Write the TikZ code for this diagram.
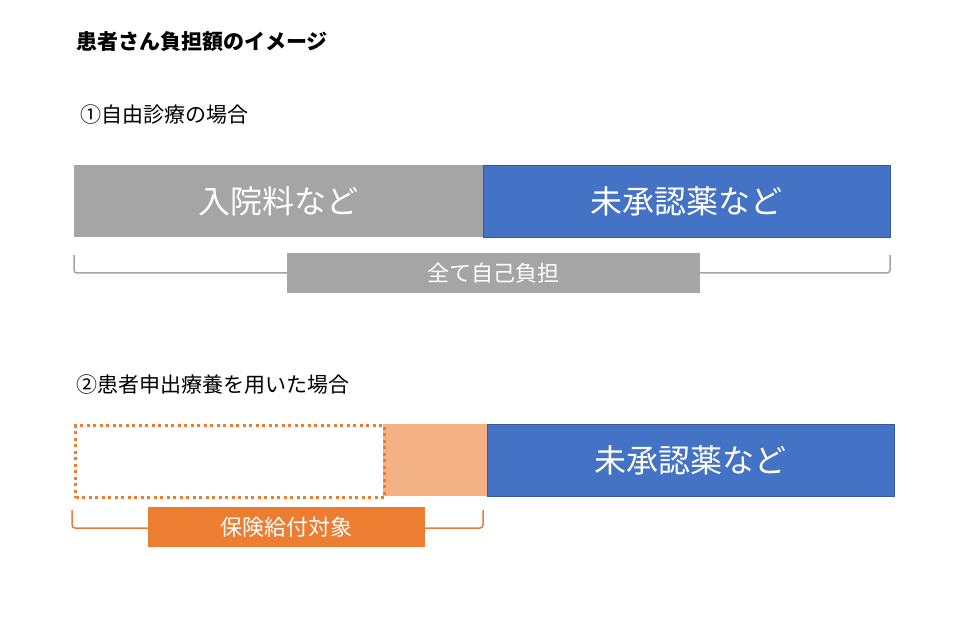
\documentclass[tikz,border=0pt]{standalone}
\usepackage{fontspec}
\setmainfont{Noto Sans CJK JP}
\usetikzlibrary{positioning}
\definecolor{barGray}{HTML}{A5A5A5}
\definecolor{barBlue}{HTML}{4472C4}
\definecolor{barPeach}{HTML}{F4B183}
\definecolor{barOrange}{HTML}{ED7D31}
\tikzset{
  bar/.style={inner sep=0pt, outer sep=0pt, text=white, font=\fontsize{32}{36}\selectfont},
  tag/.style={inner sep=0pt, outer sep=0pt, text=white, font=\fontsize{22}{26}\selectfont},
  heading/.style={anchor=west, inner sep=0pt, font=\fontsize{21}{24}\selectfont},
  brace/.style={line width=1.5pt, rounded corners=3pt},
}
\begin{document}
\begin{tikzpicture}[x=1pt, y=-1pt]
    \useasboundingbox (0,0) rectangle (966,620);

    % headings
    \node [heading, font=\fontsize{21}{24}\selectfont\bfseries] (title) at (76,42) {患者さん負担額のイメージ};
    \node [heading] (case1) at (80,115) {①自由診療の場合};
    \node [heading] (case2) at (76,385) {②患者申出療養を用いた場合};

    % case 1 bars
    \node [bar, fill=barGray, minimum width=409pt, minimum height=72pt, anchor=north west] (fee1) at (74,165) {入院料など};
    \node [bar, fill=barBlue, draw=barBlue!80!black, minimum width=407pt, minimum height=72pt, anchor=north west] (drug1) at (483,165) {未承認薬など};

    % case 1 bracket
    \coordinate (b1l) at (74,255);
    \coordinate (b1r) at (890,255);
    \draw [brace, barGray] (b1l) |- (80,273) -- (884,273) -| (b1r);
    \node [tag, fill=barGray, minimum width=413pt, minimum height=40pt, anchor=north west] (self) at (287,253) {全て自己負担};

    % case 2 bars
    \node [fill=barPeach, inner sep=0pt, minimum width=104pt, minimum height=72pt, anchor=north west] (copay) at (383,424) {};
    \node [draw=barOrange, line width=3pt, dash pattern=on 3pt off 3.5pt, inner sep=0pt, minimum width=309pt, minimum height=72pt, anchor=north west] (cover) at (74,424) {};
    \node [bar, fill=barBlue, draw=barBlue!80!black, minimum width=407pt, minimum height=72pt, anchor=north west] (drug2) at (487,424) {未承認薬など};

    % case 2 bracket
    \coordinate (b2l) at (72,510);
    \coordinate (b2r) at (483,510);
    \draw [brace, barOrange] (b2l) |- (78,528) -- (477,528) -| (b2r);
    \node [tag, fill=barOrange, minimum width=277pt, minimum height=40pt, anchor=north west] (insured) at (148,507) {保険給付対象};
\end{tikzpicture}
\end{document}
